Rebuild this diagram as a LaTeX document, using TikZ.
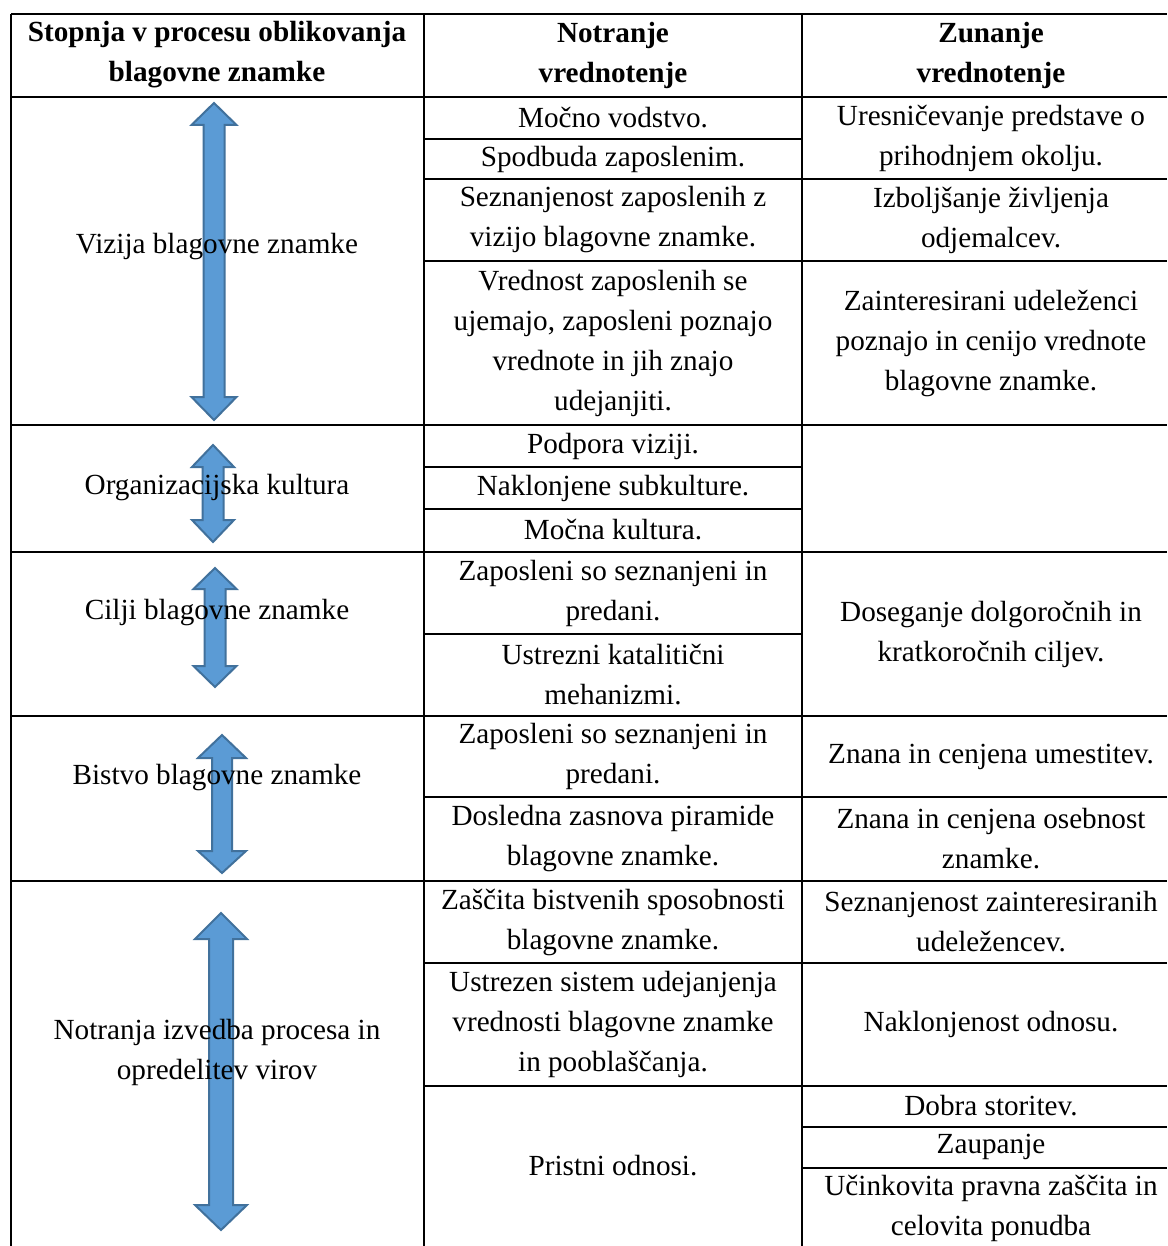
\documentclass[tikz,border=0pt]{standalone}
\usepackage{fontspec}
\setmainfont{Liberation Serif}
\definecolor{arrfill}{RGB}{91,155,213}
\definecolor{arrline}{RGB}{65,113,156}
\newcommand\myarrow[8]{%
  \draw[arrowshape] ({#2},{#3}) -- ({#2+#8},{#4}) -- ({#2+#7},{#4}) -- ({#2+#7},{#5})
   -- ({#2+#8},{#5}) -- ({#2},{#6}) -- ({#2-#8},{#5}) -- ({#2-#7},{#5}) -- ({#2-#7},{#4})
   -- ({#2-#8},{#4}) -- cycle;}
\begin{document}
\begin{tikzpicture}[x=0.5pt,y=-0.5pt,
  arrowshape/.style={fill=arrfill,draw=arrline,line width=1pt,line join=miter},
  rule/.style={line width=1pt,black},
  txt/.style={align=center,inner sep=0pt,font=\fontsize{14.6}{20}\selectfont},
  hdr/.style={txt,font=\fontsize{14.6}{20}\selectfont\bfseries}]
\useasboundingbox (0,0) rectangle (1167,1246);
\fill[white] (0,0) rectangle (1167,1246);
% arrows
\myarrow{a1}{214}{103}{125}{397}{420}{10.5}{22.5}
\myarrow{a2}{213}{445}{467}{520}{542}{10.5}{21}
\myarrow{a3}{215}{568}{589}{666}{687}{10.5}{21.5}
\myarrow{a4}{222}{735}{758}{851}{873}{10}{24}
\myarrow{a5}{221}{913}{939}{1205}{1230}{12}{26}
% rules
\draw[rule] (11,14) -- (1167,14);
\draw[rule] (11,14) -- (11,1246);
\draw[rule] (424,14) -- (424,1246);
\draw[rule] (802,14) -- (802,1246);
\foreach \y in {97,425,552,716,881} \draw[rule] (11,\y) -- (1167,\y);
\foreach \y in {179,261,797,963,1086} \draw[rule] (424,\y) -- (1167,\y);
\foreach \y in {139,467,509,634} \draw[rule] (424,\y) -- (802,\y);
\foreach \y in {1127,1168} \draw[rule] (802,\y) -- (1167,\y);
% header
\node[hdr] (h1) at (217,55) {Stopnja v procesu oblikovanja\\blagovne znamke};
\node[hdr] (h2) at (613,55) {Notranje\\vrednotenje};
\node[hdr] (h3) at (991,55) {Zunanje\\vrednotenje};
% left column
\node[txt] (l1) at (217,247) {Vizija blagovne znamke};
\node[txt] (l2) at (217,488) {Organizacijska kultura};
\node[txt] (l3) at (217,613) {Cilji blagovne znamke};
\node[txt] (l4) at (217,778) {Bistvo blagovne znamke};
\node[txt] (l5) at (217,1052) {Notranja izvedba procesa in\\opredelitev virov};
% middle column
\node[txt] (m1) at (613,118) {Močno vodstvo.};
\node[txt] (m2) at (613,159) {Spodbuda zaposlenim.};
\node[txt] (m3) at (613,220) {Seznanjenost zaposlenih z\\vizijo blagovne znamke.};
\node[txt] (m4) at (613,343) {Vrednost zaposlenih se\\ujemajo, zaposleni poznajo\\vrednote in jih znajo\\udejanjiti.};
\node[txt] (m5) at (613,446) {Podpora viziji.};
\node[txt] (m6) at (613,488) {Naklonjene subkulture.};
\node[txt] (m7) at (613,530) {Močna kultura.};
\node[txt] (m8) at (613,593) {Zaposleni so seznanjeni in\\predani.};
\node[txt] (m9) at (613,675) {Ustrezni katalitični\\mehanizmi.};
\node[txt] (m10) at (613,756) {Zaposleni so seznanjeni in\\predani.};
\node[txt] (m11) at (613,839) {Dosledna zasnova piramide\\blagovne znamke.};
\node[txt] (m12) at (613,922) {Zaščita bistvenih sposobnosti\\blagovne znamke.};
\node[txt] (m13) at (613,1024) {Ustrezen sistem udejanjenja\\vrednosti blagovne znamke\\in pooblaščanja.};
\node[txt] (m14) at (613,1166) {Pristni odnosi.};
% right column
\node[txt] (r1) at (991,138) {Uresničevanje predstave o\\prihodnjem okolju.};
\node[txt] (r2) at (991,220) {Izboljšanje življenja\\odjemalcev.};
\node[txt] (r3) at (991,343) {Zainteresirani udeleženci\\poznajo in cenijo vrednote\\blagovne znamke.};
\node[txt] (r4) at (991,634) {Doseganje dolgoročnih in\\kratkoročnih ciljev.};
\node[txt] (r5) at (991,757) {Znana in cenjena umestitev.};
\node[txt] (r6) at (991,839) {Znana in cenjena osebnost\\znamke.};
\node[txt] (r7) at (991,922) {Seznanjenost zainteresiranih\\udeležencev.};
\node[txt] (r8) at (991,1024) {Naklonjenost odnosu.};
\node[txt] (r9) at (991,1106) {Dobra storitev.};
\node[txt] (r10) at (991,1147) {Zaupanje};
\node[txt] (r11) at (991,1208) {Učinkovita pravna zaščita in\\celovita ponudba};
\end{tikzpicture}
\end{document}
